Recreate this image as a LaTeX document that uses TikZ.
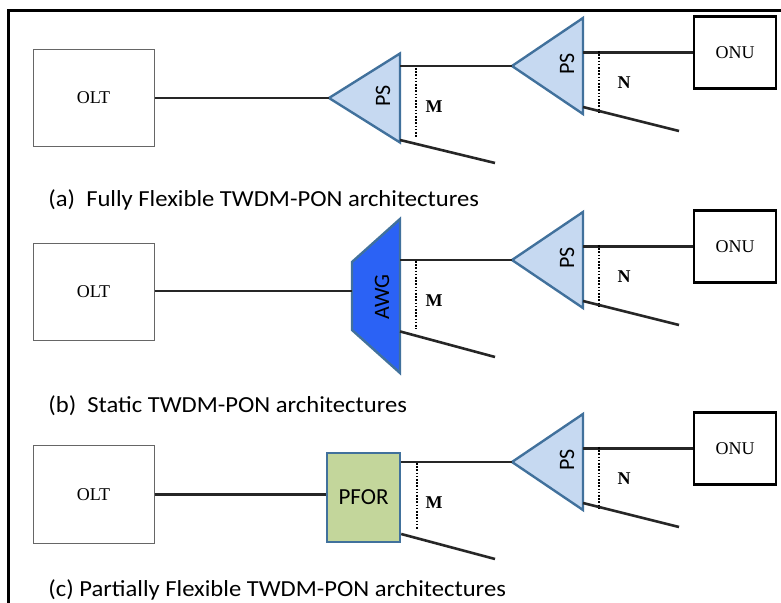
\documentclass[tikz,border=0pt]{standalone}
\usepackage{fontspec}
\setmainfont{Liberation Serif}
\newfontfamily\calibri{Carlito}
\usetikzlibrary{shapes.geometric,calc,positioning}
\definecolor{psfill}{RGB}{198,217,241}
\definecolor{psline}{RGB}{65,113,156}
\definecolor{awgfill}{RGB}{43,98,245}
\definecolor{pforfill}{RGB}{195,214,155}
\tikzset{
  frame/.style={line width=1.5pt},
  fiber/.style={line width=1.3pt,black!85},
  split/.style={line width=1.1pt,dash pattern=on 0.8pt off 0.8pt},
  oltbox/.style={draw=black!60,line width=0.5pt,minimum width=60.5pt,minimum height=48.5pt,inner sep=0pt,font=\fontsize{9}{10}\selectfont},
  onubox/.style={draw,line width=1.4pt,minimum width=41pt,minimum height=36pt,inner sep=0pt,font=\fontsize{9}{10}\selectfont},
  ps/.style={isosceles triangle,shape border rotate=180,isosceles triangle stretches,minimum width=44.5pt,minimum height=35.5pt,inner sep=0pt,outer sep=0pt,draw=psline,fill=psfill,line width=1.2pt},
  pstext/.style={rotate=90,inner sep=0pt,font=\calibri\fontsize{11}{12}\selectfont},
  awg/.style={draw=psline,fill=awgfill,line width=1.2pt},
  pfor/.style={draw=psline,fill=pforfill,line width=1.2pt,minimum width=36.5pt,minimum height=44.5pt,inner sep=0pt,font=\calibri\fontsize{11.5}{13}\selectfont},
  count/.style={font=\bfseries\fontsize{9}{10}\selectfont,inner sep=0pt},
  caption/.style={anchor=base west,inner sep=0pt,xscale=1.07,font=\calibri\fontsize{11.5}{13}\selectfont}
}
\begin{document}
\begin{tikzpicture}[x=0.5pt,y=-0.5pt]
  \useasboundingbox (0,0) rectangle (781,603);
  \clip (0,0) rectangle (781,603);
  \draw[frame] (8,620) |- (800,11);

  % (a) fully flexible
  \node[oltbox] (olt-a) at (93.5,98) {OLT};
  \node[ps,anchor=apex] (psm-a) at (329,98) {};
  \node[pstext] at (383,96) {PS};
  \node[ps,minimum width=48pt,anchor=apex] (psn-a) at (512,66) {};
  \node[pstext] at (567,64) {PS};
  \node[onubox] (onu-a) at (735,52.5) {ONU};
  \coordinate (endm-a) at (495,163);
  \coordinate (endn-a) at (679,131);
  \draw[fiber] (olt-a.east) -- (psm-a.apex);
  \draw[fiber] (psn-a.apex -| psm-a.lower side) -- (psn-a.apex);
  \draw[fiber] ($(psm-a.lower side)+(0,42)$) -- (endm-a);
  \draw[fiber] (onu-a.west -| psn-a.lower side) -- (onu-a.west);
  \draw[fiber] ($(psn-a.lower side)+(0,41)$) -- (endn-a);
  \draw[split] ($(psm-a.lower side)+(16,-30)$) -- ($(psm-a.lower side)+(16,39)$);
  \draw[split] ($(psn-a.lower side)+(16,-15)$) -- ($(psn-a.lower side)+(16,47)$);
  \node[count] at (434,107) {M};
  \node[count] at (624,83) {N};
  \node[caption] at (48,206.5) {(a)\ \ Fully Flexible TWDM-PON architectures};

  % (b) static
  \begin{scope}[shift={(0,194)}]
    \node[oltbox] (olt-b) at (93.5,98) {OLT};
    \draw[awg] (352,68) -- (400,25) coordinate (awg-ne) -- (400,179) coordinate (awg-se) -- (352,136) -- cycle;
    \coordinate (awg-in) at (352,97);
    \node[pstext] at (382,103) {AWG};
    \node[ps,minimum width=48pt,anchor=apex] (psn-b) at (512,66) {};
    \node[pstext] at (567,64) {PS};
    \node[onubox] (onu-b) at (735,52.5) {ONU};
    \coordinate (endm-b) at (495,163);
    \coordinate (endn-b) at (679,131);
    \draw[fiber] (olt-b.east |- awg-in) -- (awg-in);
    \draw[fiber] (psn-b.apex -| awg-ne) -- (psn-b.apex);
    \draw[fiber] ($(awg-ne)!0.73!(awg-se)$) -- (endm-b);
    \draw[fiber] (onu-b.west -| psn-b.lower side) -- (onu-b.west);
    \draw[fiber] ($(psn-b.lower side)+(0,41)$) -- (endn-b);
    \draw[split] ($(awg-ne)+(16,42)$) -- ($(awg-ne)+(16,110)$);
    \draw[split] ($(psn-b.lower side)+(16,-15)$) -- ($(psn-b.lower side)+(16,47)$);
    \node[count] at (434,107) {M};
    \node[count] at (624,83) {N};
  \end{scope}
  \node[caption] at (48,412.5) {(b)\ \ Static TWDM-PON architectures};

  % (c) partially flexible
  \begin{scope}[shift={(0,396)}]
    \node[oltbox] (olt-c) at (93.5,98.5) {OLT};
    \node[pfor] (pfor-c) at (363.5,101.5) {PFOR};
    \node[ps,minimum width=48pt,anchor=apex] (psn-c) at (512,66) {};
    \node[pstext] at (567,64) {PS};
    \node[onubox] (onu-c) at (735,52.5) {ONU};
    \coordinate (endm-c) at (495,163);
    \coordinate (endn-c) at (679,131);
    \draw[fiber] (olt-c.east) -- (pfor-c.west |- olt-c.east);
    \draw[fiber] (psn-c.apex -| pfor-c.east) -- (psn-c.apex);
    \draw[fiber] ($(pfor-c.east)+(0,36.5)$) -- (endm-c);
    \draw[fiber] (onu-c.west -| psn-c.lower side) -- (onu-c.west);
    \draw[fiber] ($(psn-c.lower side)+(0,41)$) -- (endn-c);
    \draw[split] ($(pfor-c.east)+(16,-34.5)$) -- ($(pfor-c.east)+(16,32.5)$);
    \draw[split] ($(psn-c.lower side)+(16,-15)$) -- ($(psn-c.lower side)+(16,47)$);
    \node[count] at (434,107) {M};
    \node[count] at (624,83) {N};
  \end{scope}
  \node[caption] at (48,596.5) {(c) Partially Flexible TWDM-PON architectures};
\end{tikzpicture}
\end{document}
